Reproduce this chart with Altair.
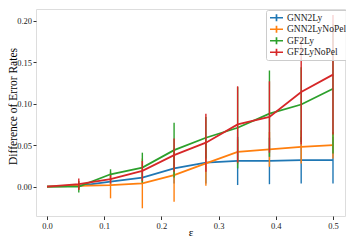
import altair as alt
import pandas as pd

eps = [0.0, 0.0556, 0.1111, 0.1667, 0.2222, 0.2778, 0.3333, 0.3889, 0.4444, 0.5]

series_names = ["GNN2Ly", "GNN2LyNoPel", "GF2Ly", "GF2LyNoPel"]
series_colors = ["#1f77b4", "#ff7f0e", "#2ca02c", "#d62728"]

gnn2ly_mean = [0.0, 0.001, 0.006, 0.011, 0.022, 0.029, 0.031, 0.031, 0.032, 0.032]
gnn2ly_err = [0.0, 0.003, 0.004, 0.008, 0.018, 0.025, 0.029, 0.028, 0.028, 0.028]

gnn2lynopel_mean = [0.0, 0.001, 0.002, 0.004, 0.014, 0.028, 0.042, 0.045, 0.048, 0.050]
gnn2lynopel_err = [0.0, 0.004, 0.016, 0.030, 0.032, 0.027, 0.015, 0.021, 0.020, 0.016]

gf2ly_mean = [0.0, 0.000, 0.015, 0.023, 0.044, 0.059, 0.071, 0.088, 0.099, 0.118]
gf2ly_err = [0.0, 0.007, 0.006, 0.018, 0.033, 0.025, 0.049, 0.052, 0.045, 0.078]

gf2lynopel_mean = [0.0, 0.003, 0.009, 0.019, 0.038, 0.053, 0.075, 0.084, 0.114, 0.135]
gf2lynopel_err = [0.0, 0.007, 0.005, 0.012, 0.020, 0.035, 0.046, 0.043, 0.063, 0.072]

x_ticks = [0.0, 0.1, 0.2, 0.3, 0.4, 0.5]
y_ticks = [0.0, 0.05, 0.10, 0.15, 0.20]

means = [gnn2ly_mean, gnn2lynopel_mean, gf2ly_mean, gf2lynopel_mean]
errs = [gnn2ly_err, gnn2lynopel_err, gf2ly_err, gf2lynopel_err]

rows = []
for name, m, e in zip(series_names, means, errs):
    for xv, mv, ev in zip(eps, m, e):
        rows.append({"series": name, "eps": xv, "mean": mv, "lo": mv - ev, "hi": mv + ev})
df = pd.DataFrame(rows)

FONT = "Liberation Serif"

xscale = alt.Scale(domain=[-0.0192, 0.521], nice=False, zero=False)
yscale = alt.Scale(domain=[-0.0353, 0.2141], nice=False, zero=False)
cscale = alt.Scale(domain=series_names, range=series_colors)

xaxis = alt.Axis(values=x_ticks, format=".1f", title="ε", grid=False, domain=False,
                 tickSize=3.5, tickColor="#000", tickWidth=0.8, labelPadding=2,
                 labelFont=FONT, labelFontSize=8.5, labelColor="#222",
                 titleFont=FONT, titleFontSize=11, titleFontWeight="normal",
                 titleY=19.5, titleBaseline="alphabetic", titleColor="#000")
yaxis = alt.Axis(values=y_ticks, format=".2f", title="Difference of Error Rates", grid=False,
                 domain=False, tickSize=3, tickColor="#000", tickWidth=0.8, labelPadding=1.5,
                 labelFont=FONT, labelFontSize=8.5, labelColor="#222",
                 titleFont=FONT, titleFontSize=11.5, titleFontWeight="normal",
                 titleX=-19.5, titleY=97, titleAngle=270, titleAlign="center",
                 titleBaseline="alphabetic", titleColor="#000")

legend = alt.Legend(title=None, orient="none", legendX=230, legendY=1,
                    symbolType="M-1.45,0H1.45M0,-0.78V0.78", symbolSize=81,
                    symbolStrokeWidth=1.7, symbolOffset=2, labelOffset=5,
                    labelFont=FONT, labelFontSize=9.5, labelColor="#222",
                    clipHeight=9.5, rowPadding=0.5, padding=3,
                    strokeColor="#cccccc", fillColor="rgba(255,255,255,0.8)",
                    cornerRadius=2)

layers = []
for i, name in enumerate(series_names):
    base = alt.Chart(df).transform_filter(alt.datum.series == name)
    rule = base.mark_rule(strokeWidth=1.4).encode(
        x=alt.X("eps:Q", scale=xscale, axis=xaxis),
        y=alt.Y("lo:Q", scale=yscale, axis=yaxis),
        y2="hi:Q",
        color=alt.Color("series:N", scale=cscale, legend=legend),
    )
    line = base.mark_line(strokeWidth=1.8).encode(
        x=alt.X("eps:Q", scale=xscale, axis=xaxis),
        y=alt.Y("mean:Q", scale=yscale, axis=yaxis),
        color=alt.Color("series:N", scale=cscale, legend=legend),
    )
    layers += [rule, line]

chart = alt.layer(*layers).properties(
    width=309, height=207,
    autosize=alt.AutoSizeParams(type="none"),
    padding={"left": 28, "top": 1, "right": 1, "bottom": 22},
).configure_view(stroke="#222", strokeWidth=1).configure(background="white")

chart.save("out.html", embed_options={"renderer": "svg", "actions": False})
